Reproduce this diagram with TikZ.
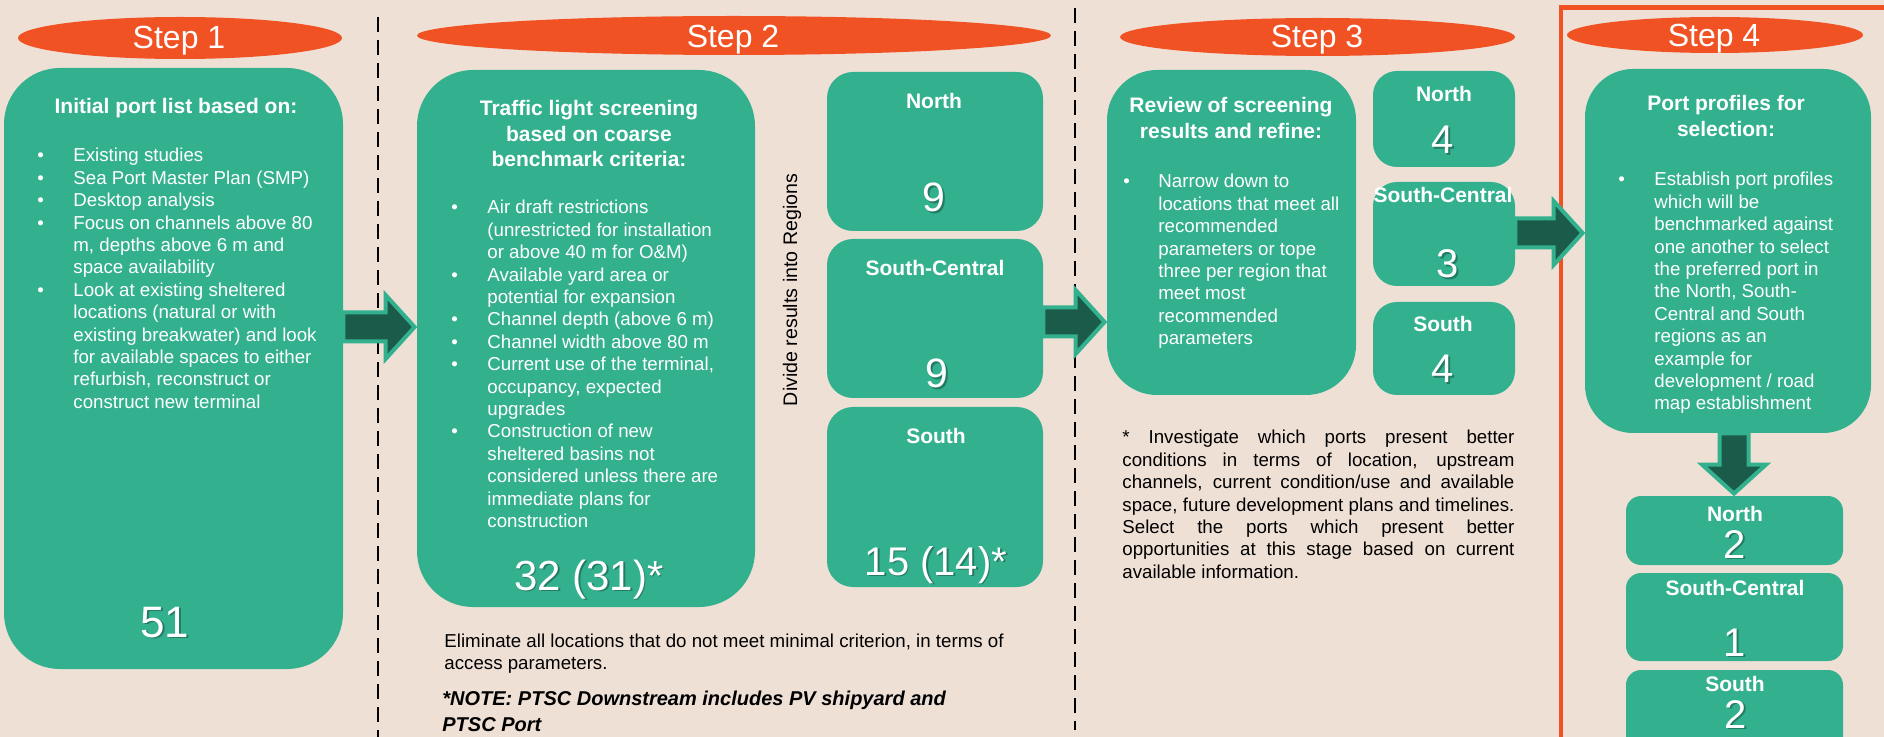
\documentclass[tikz,border=0pt]{standalone}
\usepackage{fontspec}
\setmainfont{Liberation Sans}
\usetikzlibrary{shapes.geometric,calc}
\definecolor{bgbeige}{RGB}{239,224,214}
\definecolor{boxteal}{RGB}{51,177,143}
\definecolor{orng}{RGB}{241,82,36}
\definecolor{darkg}{RGB}{27,91,74}
\newcommand\harrow[2]{%
  \path[blockarrow] ($(#1)+(0,-14.5)$) -- ($(#2)+(-31,-14.5)$) -- ($(#2)+(-31,-32)$) -- ($(#2)+(-2,0)$) -- ($(#2)+(-31,32)$) -- ($(#2)+(-31,14.5)$) -- ($(#1)+(0,14.5)$) -- cycle;}
\newcommand\varrow[2]{%
  \path[blockarrow] ($(#1)+(-14.5,0)$) -- ($(#2)+(-14.5,-31)$) -- ($(#2)+(-32,-31)$) -- ($(#2)+(0,-2)$) -- ($(#2)+(32,-31)$) -- ($(#2)+(14.5,-31)$) -- ($(#1)+(14.5,0)$) -- cycle;}
% number with a faint drop shadow: name, x, y, size, text
\newcommand\numnode[5]{%
  \node[bignum=#4, text=black, opacity=0.3] at ($(#2,#3)+(1.6,1.6)$) {#5};
  \node[bignum=#4] (#1) at (#2,#3) {#5};}
\begin{document}
\begin{tikzpicture}[x=0.5pt,y=-0.5pt,
 bigbox/.style={fill=boxteal, rounded corners=28pt, inner sep=0},
 regbox/.style={fill=boxteal, rounded corners=13pt, inner sep=0},
 stepoval/.style={ellipse, fill=orng, inner sep=0},
 steplabel/.style={text=white, font=\fontsize{16pt}{19pt}\selectfont, anchor=base, inner sep=0},
 boxtitle/.style={text=white, font=\bfseries\fontsize{10.5pt}{12.75pt}\selectfont, anchor=base, inner sep=0},
 bodytext/.style={text=white, font=\fontsize{9.35pt}{11.2pt}\selectfont, anchor=base west, inner sep=0},
 regtitle/.style={text=white, font=\bfseries\fontsize{10.5pt}{12.6pt}\selectfont, anchor=base, inner sep=0},
 bignum/.style={text=white, font=\fontsize{#1}{#1}\selectfont, anchor=base, inner sep=0},
 bignum/.default=21pt,
 blockarrow/.style={fill=darkg, draw=boxteal, line width=2pt, line join=miter},
 dashsep/.style={black, line width=1pt, dash pattern=on 7.5pt off 4pt},
 redframe/.style={draw=orng, line width=2.4pt},
 notetext/.style={text=black, font=\fontsize{9.35pt}{11.2pt}\selectfont, anchor=base west, inner sep=0}
]
\useasboundingbox (0,0) rectangle (1884,737);
\clip (0,0) rectangle (1884,737);
\fill[bgbeige] (0,0) rectangle (1884,737);

% separators and frame
\draw[dashsep] (378,17) -- (378,737);
\draw[dashsep] (1075,8) -- (1075,730);
\draw[redframe] (1561,745) -- (1561,7.5) -- (1895,7.5);

% step ovals
\node[stepoval, minimum width=162pt, minimum height=21pt] (e1) at (180,38) {};
\node[stepoval, minimum width=317pt, minimum height=19.5pt] (e2) at (734,35.5) {};
\node[stepoval, minimum width=197.5pt, minimum height=19pt] (e3) at (1317.5,37) {};
\node[stepoval, minimum width=148pt, minimum height=18pt] (e4) at (1715,35) {};
\node[steplabel] (s1) at (179,49) {Step 1};
\node[steplabel] (s2) at (733,48) {Step 2};
\node[steplabel] (s3) at (1317,48) {Step 3};
\node[steplabel] (s4) at (1714,47) {Step 4};

% big boxes
\node[bigbox, minimum width=169.5pt, minimum height=300.5pt] (b1) at (173.5,368.5) {};
\node[bigbox, minimum width=169pt, minimum height=268.5pt] (b2) at (586,338.5) {};
\node[bigbox, rounded corners=25pt, minimum width=124.5pt, minimum height=162.5pt] (b3) at (1231.5,232.5) {};
\node[bigbox, rounded corners=24pt, minimum width=143pt, minimum height=182pt] (b4) at (1728,251) {};

% step 2 regions
\node[regbox, minimum width=108pt, minimum height=79.5pt] (n2) at (935,151.5) {};
\node[regbox, minimum width=108pt, minimum height=79.5pt] (c2) at (935,318.5) {};
\node[regbox, minimum width=108pt, minimum height=90pt] (so2) at (935,497) {};
% step 3 regions
\node[regbox, rounded corners=12pt, minimum width=71pt, minimum height=48pt] (n3) at (1444,119) {};
\node[regbox, rounded corners=12pt, minimum width=71pt, minimum height=52pt] (c3) at (1444,234) {};
\node[regbox, rounded corners=12pt, minimum width=71pt, minimum height=46.5pt] (so3) at (1444,348.5) {};
% step 4 regions
\node[regbox, rounded corners=7.5pt, minimum width=108.5pt, minimum height=34.5pt] (n4) at (1734.5,530.5) {};
\node[regbox, rounded corners=7.5pt, minimum width=108.5pt, minimum height=44pt] (c4) at (1734.5,617) {};
\node[regbox, rounded corners=7.5pt, minimum width=108.5pt, minimum height=45pt] (so4) at (1734.5,715) {};

% arrows
\coordinate (r1) at (0,327);
\coordinate (r2) at (0,322);
\coordinate (r3) at (0,233);
\coordinate (k4) at (1734,0);
\coordinate (a1s) at (b1.east |- r1);
\coordinate (a1e) at (b2.west |- r1);
\coordinate (a2s) at (c2.east |- r2);
\coordinate (a2e) at (b3.west |- r2);
\coordinate (a3s) at (c3.east |- r3);
\coordinate (a3e) at (b4.west |- r3);
\coordinate (a4s) at (k4 |- b4.south);
\coordinate (a4e) at (k4 |- n4.north);
\harrow{a1s}{a1e}
\harrow{a2s}{a2e}
\harrow{a3s}{a3e}
\varrow{a4s}{a4e}

% box 1 text
\node[boxtitle] (t1) at (176,114) {Initial port list based on:};
\node[bodytext] (l1) at (37,162) {\begin{tabular}[t]{@{}p{18pt}@{}l@{}}
• & Existing studies\\
• & Sea Port Master Plan (SMP)\\
• & Desktop analysis\\
• & Focus on channels above 80\\
  & m, depths above 6 m and\\
  & space availability\\
• & Look at existing sheltered\\
  & locations (natural or with\\
  & existing breakwater) and look\\
  & for available spaces to either\\
  & refurbish, reconstruct or\\
  & construct new terminal
\end{tabular}};
\numnode{m1}{165}{637}{22pt}{51}

% box 2 text
\node[boxtitle] (t2) at (589,116) {\begin{tabular}[t]{@{}c@{}}Traffic light screening\\ based on coarse\\ benchmark criteria:\end{tabular}};
\node[bodytext] (l2) at (451,214) {\begin{tabular}[t]{@{}p{18pt}@{}l@{}}
• & Air draft restrictions\\
  & (unrestricted for installation\\
  & or above 40 m for O\&M)\\
• & Available yard area or\\
  & potential for expansion\\
• & Channel depth (above 6 m)\\
• & Channel width above 80 m\\
• & Current use of the terminal,\\
  & occupancy, expected\\
  & upgrades\\
• & Construction of new\\
  & sheltered basins not\\
  & considered unless there are\\
  & immediate plans for\\
  & construction
\end{tabular}};
\numnode{m2}{589}{590}{21pt}{32 (31)*}

\node[notetext, font=\fontsize{9.8pt}{11.5pt}\selectfont, rotate=90, anchor=base] (dv) at (797,290) {Divide results into Regions};

\node[regtitle] (tn2) at (934,109) {North};
\numnode{mn2}{934}{212}{20.5pt}{9}
\node[regtitle] (tc2) at (935,276) {South-Central};
\numnode{mc2}{937}{388}{20.5pt}{9}
\node[regtitle] (ts2) at (936,444) {South};
\numnode{ms2}{936}{575}{20pt}{15 (14)*}

\node[notetext] (el) at (444,647) {\begin{tabular}[t]{@{}l@{}}Eliminate all locations that do not meet minimal criterion, in terms of\\ access parameters.\end{tabular}};
\node[notetext, font=\bfseries\itshape\fontsize{10pt}{13pt}\selectfont] (nt) at (442,705) {\begin{tabular}[t]{@{}l@{}}*NOTE: PTSC Downstream includes PV shipyard and\\ PTSC Port\end{tabular}};

% box 3 text
\node[boxtitle] (t3) at (1231,113) {\begin{tabular}[t]{@{}c@{}}Review of screening\\ results and refine:\end{tabular}};
\node[bodytext] (l3) at (1123,188) {\begin{tabular}[t]{@{}p{17.5pt}@{}l@{}}
• & Narrow down to\\
  & locations that meet all\\
  & recommended\\
  & parameters or tope\\
  & three per region that\\
  & meet most\\
  & recommended\\
  & parameters
\end{tabular}};
\node[regtitle] (tn3) at (1444,102) {North};
\numnode{mn3}{1443}{154}{20pt}{4}
\node[regtitle] (tc3) at (1443,203) {South-Central};
\numnode{mc3}{1448}{278}{20pt}{3}
\node[regtitle] (ts3) at (1443,332) {South};
\numnode{ms3}{1443}{383}{20pt}{4}

\node[notetext] (n3t) at (1122,444) {\begin{tabular}[t]{@{}l@{}}
\makebox[196pt][s]{* Investigate which ports present better}\\
\makebox[196pt][s]{conditions in terms of location, upstream}\\
\makebox[196pt][s]{channels, current condition/use and available}\\
\makebox[196pt][s]{space, future development plans and timelines.}\\
\makebox[196pt][s]{Select the ports which present better}\\
\makebox[196pt][s]{opportunities at this stage based on current}\\
available information.
\end{tabular}};

% box 4 text
\node[boxtitle] (t4) at (1726,111) {\begin{tabular}[t]{@{}c@{}}Port profiles for\\ selection:\end{tabular}};
\node[bodytext] (l4) at (1618,186) {\begin{tabular}[t]{@{}p{18pt}@{}l@{}}
• & Establish port profiles\\
  & which will be\\
  & benchmarked against\\
  & one another to select\\
  & the preferred port in\\
  & the North, South-\\
  & Central and South\\
  & regions as an\\
  & example for\\
  & development / road\\
  & map establishment
\end{tabular}};
\node[regtitle] (tn4) at (1735,521) {North};
\numnode{mn4}{1735}{558}{20pt}{2}
\node[regtitle] (tc4) at (1735,595) {South-Central};
\numnode{mc4}{1735}{656}{20pt}{1}
\node[regtitle] (ts4) at (1735,691) {South};
\numnode{ms4}{1736}{728}{20pt}{2}
\end{tikzpicture}
\end{document}
